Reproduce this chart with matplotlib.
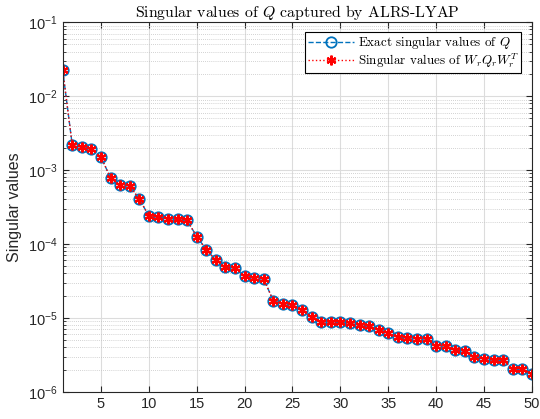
import numpy as np
import matplotlib
matplotlib.use('Agg')
import matplotlib.pyplot as plt
from matplotlib.ticker import LogLocator, NullFormatter, FixedLocator

plt.rcParams['font.family'] = ['Liberation Sans', 'DejaVu Sans']
plt.rcParams['mathtext.fontset'] = 'custom'
plt.rcParams['mathtext.rm'] = 'Liberation Sans'
plt.rcParams['mathtext.it'] = 'Liberation Sans:italic'

# singular values, index 1..50
idx = np.arange(1, 51)
sv_exact = [2.27e-2, 2.20e-3, 2.02e-3, 1.92e-3, 1.51e-3, 7.8e-4, 6.27e-4, 6.1e-4, 4.05e-4, 2.41e-4,
            2.31e-4, 2.20e-4, 2.15e-4, 2.08e-4, 1.26e-4, 8.4e-5, 6.0e-5, 4.83e-5, 4.68e-5, 3.65e-5,
            3.45e-5, 3.35e-5, 1.70e-5, 1.56e-5, 1.51e-5, 1.26e-5, 1.04e-5, 8.9e-6, 8.7e-6, 8.7e-6,
            8.4e-6, 7.9e-6, 7.7e-6, 6.95e-6, 6.2e-6, 5.47e-6, 5.4e-6, 5.25e-6, 5.17e-6, 4.19e-6,
            4.15e-6, 3.7e-6, 3.51e-6, 2.97e-6, 2.79e-6, 2.65e-6, 2.65e-6, 2.04e-6, 2.04e-6, 1.73e-6]
sv_approx = list(sv_exact)

x_ticks = [5, 10, 15, 20, 25, 30, 35, 40, 45, 50]

axc = '#262626'
fig = plt.figure(figsize=(5.4, 4.19), dpi=100)
ax = fig.add_axes([0.116, 0.065, 0.869, 0.882])

ax.semilogy(idx, sv_exact, '--o', color='#0072BD', mfc='none', ms=7.5, mew=1.3, lw=1.0,
            label=r'Exact singular values of $Q$')
ax.semilogy(idx, sv_approx, ':', color='red', marker=(6, 2, 0), ms=7, mew=1.6, lw=1.0,
            label=r'Singular values of $W_rQ_rW_r^T$')

ax.set_xlim(1, 50)
ax.set_ylim(1e-6, 1e-1)
ax.xaxis.set_major_locator(FixedLocator(x_ticks))
ax.yaxis.set_major_locator(LogLocator(base=10, numticks=10))
ax.yaxis.set_minor_locator(LogLocator(base=10, subs=np.arange(2, 10), numticks=10))
ax.yaxis.set_minor_formatter(NullFormatter())

ax.grid(True, which='major', color='#dcdcdc', lw=0.8, ls='-')
ax.grid(True, which='minor', axis='y', color='#c4c4c4', lw=0.6, ls=(0, (1, 1.5)))
ax.set_axisbelow(True)

ax.tick_params(which='both', direction='in', top=True, right=True, colors=axc, labelsize=10.5)
ax.tick_params(which='major', length=4)
ax.tick_params(which='minor', length=2.5)
for sp in ax.spines.values():
    sp.set_color(axc)
    sp.set_linewidth(0.8)

ax.set_ylabel('Singular values', fontsize=11.5, color=axc)
t = ax.set_title(r'Singular values of $Q$ captured by ALRS-LYAP', fontsize=11.3,
                 fontfamily='cmr10', color='black', pad=4)
t.set_math_fontfamily('cm')

leg = ax.legend(loc='upper right', bbox_to_anchor=(0.9765, 0.974), fontsize=9.4,
                handlelength=3.5, fancybox=False, framealpha=1, edgecolor='black',
                borderpad=0.2, labelspacing=0.0, handletextpad=0.3, borderaxespad=0)
leg.get_frame().set_linewidth(0.8)
for txt in leg.get_texts():
    txt.set_fontfamily('cmr10')
    txt.set_math_fontfamily('cm')

fig.savefig('out.png', dpi=100)
